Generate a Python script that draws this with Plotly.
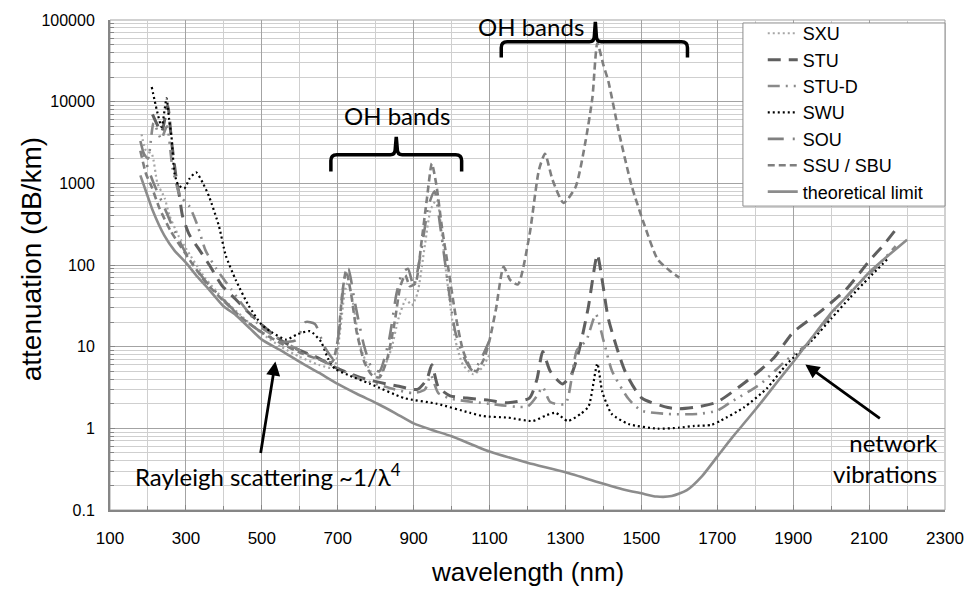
import plotly.graph_objects as go

# ---------------- data ----------------
sxu_nm = [183, 195, 210, 225, 244, 257, 280, 300, 350, 400, 450, 500, 550, 600, 650, 690, 705, 718, 727, 740, 760, 787, 810, 840, 860, 880, 895, 910, 930, 945, 961, 975, 990, 1010, 1030, 1057, 1080, 1100]
sxu_att = [4000, 2500, 2300, 1000, 660, 400, 230, 160, 70, 38, 23, 14.5, 10, 7.5, 6, 5.5, 14, 45, 62, 35, 10, 5, 4.5, 9, 22, 38, 32, 45, 180, 480, 630, 220, 55, 12, 6, 4.6, 5.5, 8]

stu_nm = [212, 236, 252, 262, 274, 283, 291, 309, 332, 363, 395, 431, 466, 500, 550, 600, 640, 700, 774, 857, 910, 935, 948, 965, 996, 1040, 1100, 1144, 1205, 1225, 1240, 1260, 1292, 1315, 1335, 1360, 1384, 1398, 1413, 1457, 1501, 1570, 1600, 1657, 1700, 1778, 1848, 1900, 1970, 2039, 2101, 2140, 2180]
stu_att = [7000, 4300, 9000, 3300, 1200, 690, 400, 235, 162, 98, 56, 38, 26, 18.5, 12, 9, 7.6, 5.4, 4.0, 3.3, 3.0, 4, 6, 3.2, 2.5, 2.35, 2.2, 2.05, 2.35, 4, 8.7, 5, 3.5, 4.5, 8.7, 30, 134, 60, 22, 5.0, 2.35, 1.8, 1.74, 1.86, 2.1, 3.8, 7.2, 15, 26.5, 50, 113, 180, 310]

stud_nm = [185, 200, 215, 235, 250, 265, 285, 309, 330, 352, 380, 420, 460, 500, 550, 600, 650, 700, 750, 800, 850, 900, 930, 945, 965, 1000, 1100, 1200, 1225, 1240, 1260, 1300, 1330, 1355, 1380, 1400, 1423, 1466, 1500, 1570, 1650, 1700, 1736, 1814, 1883, 1945, 2005, 2057, 2120, 2170]
stud_att = [2500, 2000, 5500, 3500, 5000, 1500, 700, 525, 310, 150, 90, 50, 28, 17, 12, 9, 7, 5.5, 4.2, 3.5, 3.0, 2.7, 3.0, 4.5, 2.7, 2.3, 2.0, 1.85, 2.5, 3.2, 2.1, 2.0, 9, 12, 25, 12, 5, 2.3, 1.65, 1.5, 1.5, 1.65, 2.1, 3.5, 6.9, 11.5, 26.5, 50, 95, 170]

swu_nm = [210, 223, 236, 249, 256, 262, 270, 280, 296, 310, 327, 345, 361, 387, 405, 431, 465, 500, 526, 565, 591, 627, 656, 674, 692, 727, 786, 875, 961, 1048, 1084, 1150, 1214, 1250, 1274, 1306, 1340, 1361, 1384, 1397, 1422, 1466, 1543, 1600, 1640, 1684, 1710, 1770, 1831, 1883, 1950, 2000, 2050, 2100, 2150]
swu_att = [15100, 8000, 4900, 11000, 6000, 3700, 1320, 950, 870, 1150, 1360, 1000, 690, 300, 131, 66, 32, 18.5, 15, 12.2, 14, 15.5, 11.5, 7.2, 5.4, 4.5, 3.5, 2.35, 2.0, 1.55, 1.41, 1.35, 1.23, 1.45, 1.55, 1.23, 1.5, 1.86, 6.2, 2.8, 1.5, 1.13, 0.99, 1.02, 1.07, 1.1, 1.25, 1.8, 3.1, 6.1, 12, 22, 40, 70, 120]

sou_nm = [180, 195, 215, 240, 270, 300, 350, 400, 450, 500, 550, 590, 615, 640, 665, 690, 705, 718, 728, 745, 770, 790, 810, 835, 855, 870, 885, 900, 920, 940, 955, 970, 990, 1010, 1035, 1057, 1080, 1100]
sou_att = [3300, 1800, 1000, 550, 260, 140, 65, 37, 22, 15, 11.5, 12, 20, 19, 10, 7, 18, 70, 90, 35, 10, 5.5, 5, 12, 45, 80, 90, 55, 150, 550, 800, 300, 60, 15, 7, 5, 7.5, 12]

ssu_nm = [180, 195, 210, 230, 260, 300, 350, 400, 450, 500, 550, 600, 650, 685, 700, 712, 722, 735, 750, 770, 790, 810, 830, 850, 865, 878, 890, 905, 920, 935, 948, 960, 975, 990, 1010, 1030, 1050, 1065, 1085, 1100, 1117, 1137, 1155, 1175, 1205, 1230, 1246, 1266, 1295, 1327, 1353, 1371, 1384, 1400, 1413, 1440, 1475, 1509, 1543, 1575, 1600]
ssu_att = [2500, 1300, 900, 500, 260, 135, 63, 36, 22, 15, 11, 8.5, 7, 6.5, 12, 45, 85, 45, 15, 6.5, 4.5, 4.2, 7, 20, 55, 75, 55, 60, 180, 650, 1750, 950, 280, 100, 25, 9, 5.5, 5.0, 7, 12, 29, 95, 65, 58, 230, 1450, 2300, 1100, 575, 910, 3300, 11200, 52000, 28000, 17800, 4400, 910, 300, 117, 85, 70]

theo_nm = [180, 200, 212, 243, 270, 300, 330, 361, 400, 431, 470, 500, 550, 600, 650, 700, 750, 805, 850, 900, 950, 1000, 1100, 1200, 1300, 1400, 1450, 1500, 1540, 1580, 1620, 1660, 1700, 1740, 1780, 1820, 1860, 1900, 1950, 2000, 2050, 2100, 2150, 2200]
theo_att = [1250, 680, 470, 230, 150, 107, 72, 50, 31, 24.5, 16.5, 12.2, 9, 6.5, 4.8, 3.5, 2.65, 2.0, 1.55, 1.15, 0.95, 0.8, 0.52, 0.38, 0.29, 0.21, 0.18, 0.16, 0.146, 0.148, 0.175, 0.26, 0.45, 0.78, 1.3, 2.2, 3.8, 6.5, 13, 26, 45, 81, 130, 204]

y_tickvals = [0.1, 1, 10, 100, 1000, 10000, 100000]
y_ticktext = ["0.1", "1", "10", "100", "1000", "10000", "100000"]

# ---------------- figure ----------------
W, H = 976, 590
ML, MR, MT, MB = 110, 23, 15, 80
PW, PH = W - ML - MR, H - MT - MB


def px(xp, yp):
    return ((xp - ML) / PW, 1 - (yp - MT) / PH)


series = [
    ("SXU", sxu_nm, sxu_att, "#a6a6a6", "2px,3px", 2.2),
    ("STU", stu_nm, stu_att, "#5f5f5f", "13px,8px", 3),
    ("STU-D", stud_nm, stud_att, "#8a8a8a", "12px,6px,2px,6px,2px,6px", 2.6),
    ("SWU", swu_nm, swu_att, "#000000", "2px,3px", 2.2),
    ("SOU", sou_nm, sou_att, "#808080", "16px,9px,2px,9px", 2.6),
    ("SSU / SBU", ssu_nm, ssu_att, "#7f7f7f", "7px,4px", 2.6),
    ("theoretical limit", theo_nm, theo_att, "#8c8c8c", "solid", 2.6),
]

fig = go.Figure()
for i, (name, xs, ys, col, dash, w) in enumerate(series):
    fig.add_trace(go.Scatter(
        x=xs, y=ys, name=name, mode="lines", legendgroup=f"g{i}",
        line=dict(color=col, dash=dash, width=w, shape="spline", smoothing=0.6),
    ))

grid_major = "#a3a3a3"
grid_minor = "#cfcfcf"
FONT = "Arial, Liberation Sans, sans-serif"

fig.update_xaxes(
    range=[100, 2300], tick0=100, dtick=200,
    showgrid=True, gridcolor=grid_major, gridwidth=1,
    minor=dict(dtick=100, showgrid=True, gridcolor=grid_minor, ticks="inside", ticklen=4, tickcolor="#868686"),
    ticks="inside", ticklen=5, tickcolor="#868686",
    showline=True, linecolor="#868686", linewidth=2, mirror=False,
    tickfont=dict(family=FONT, size=17, color="#000"),
    ticklabelstandoff=12,
    zeroline=False,
)
fig.update_yaxes(
    type="log", range=[-1, 5],
    tickvals=y_tickvals, ticktext=y_ticktext,
    showgrid=True, gridcolor=grid_major, gridwidth=1,
    minor=dict(dtick="D1", showgrid=True, gridcolor=grid_minor, ticks="inside", ticklen=4, tickcolor="#868686"),
    ticks="inside", ticklen=5, tickcolor="#868686",
    showline=True, linecolor="#868686", linewidth=2, mirror=False,
    tickfont=dict(family=FONT, size=16, color="#000"),
    ticklabelstandoff=10,
    zeroline=False,
)

# border on top/right of plot area
fig.add_shape(type="rect", xref="paper", yref="paper", x0=0, y0=0, x1=1, y1=1,
              line=dict(color="#a3a3a3", width=1), layer="below")

# axis titles
u, v = px(531, 573)
fig.add_annotation(x=u, y=v, xref="paper", yref="paper", text="wavelength (nm)", showarrow=False,
                   font=dict(family=FONT, size=26, color="#000"), xanchor="center", yanchor="middle")
u, v = px(31, 257)
fig.add_annotation(x=u, y=v, xref="paper", yref="paper", text="attenuation (dB/km)", showarrow=False,
                   textangle=-90, font=dict(family=FONT, size=28, color="#000"),
                   xanchor="center", yanchor="middle")


def bracket(xl, xr, xt, yb, yh, yt):
    def P(x, y):
        a, b = px(x, y)
        return f"{a:.5f},{b:.5f}"
    r = 6
    path = (f"M {P(xl, yb)} L {P(xl, yh + r)} Q {P(xl, yh)} {P(xl + r, yh)} "
            f"L {P(xt - r, yh)} Q {P(xt - 1, yh)} {P(xt - 1, yh - r)} L {P(xt, yt)} "
            f"L {P(xt + 1, yh - r)} Q {P(xt + 1, yh)} {P(xt + r, yh)} "
            f"L {P(xr - r, yh)} Q {P(xr, yh)} {P(xr, yh + r)} L {P(xr, yb)}")
    fig.add_shape(type="path", xref="paper", yref="paper", path=path,
                  line=dict(color="#000", width=3.5))


bracket(333, 465, 399, 168, 151, 133)
bracket(505, 693, 600, 53, 37, 17)

ann_font = dict(family="Lato, Open Sans, sans-serif", size=24, color="#000")
for (tx, ty, txt) in [(400, 111, "OH bands"), (535, 22, "OH bands"),
                      (270, 475, "Rayleigh scattering ~1/λ<sup>4</sup>")]:
    u, v = px(tx, ty)
    fig.add_annotation(x=u, y=v, xref="paper", yref="paper", text=txt, showarrow=False,
                       font=ann_font, xanchor="center", yanchor="middle")
u, v = px(893, 457)
fig.add_annotation(x=u, y=v, xref="paper", yref="paper", text="network<br>vibrations",
                   showarrow=False, font=ann_font, xanchor="center", yanchor="middle", align="right")

# arrows
for (hx, hy, tx, ty) in [(277, 360, 262, 453), (812, 363, 888, 418)]:
    u, v = px(hx, hy)
    fig.add_annotation(x=u, y=v, xref="paper", yref="paper", text="", showarrow=True,
                       ax=tx - hx, ay=ty - hy, arrowhead=2, arrowsize=1, arrowwidth=2.8, arrowcolor="#000")

# legend frame
x0, y0 = px(749, 18)
x1, y1 = px(953, 203)
fig.add_shape(type="rect", xref="paper", yref="paper", x0=x0, y0=y1, x1=x1, y1=y0,
              line=dict(color="#8c8c8c", width=1), fillcolor="white", layer="above")

lx, ly = px(769, 10)
fig.update_layout(
    width=W, height=H,
    margin=dict(l=ML, r=MR, t=MT, b=MB),
    paper_bgcolor="white", plot_bgcolor="white",
    showlegend=True,
    legend=dict(x=lx, y=ly, xanchor="left", yanchor="top", bgcolor="rgba(0,0,0,0)",
                borderwidth=0, traceorder="grouped", tracegroupgap=0,
                font=dict(family=FONT, size=18, color="#000")),
)

fig.write_html("out.html")
